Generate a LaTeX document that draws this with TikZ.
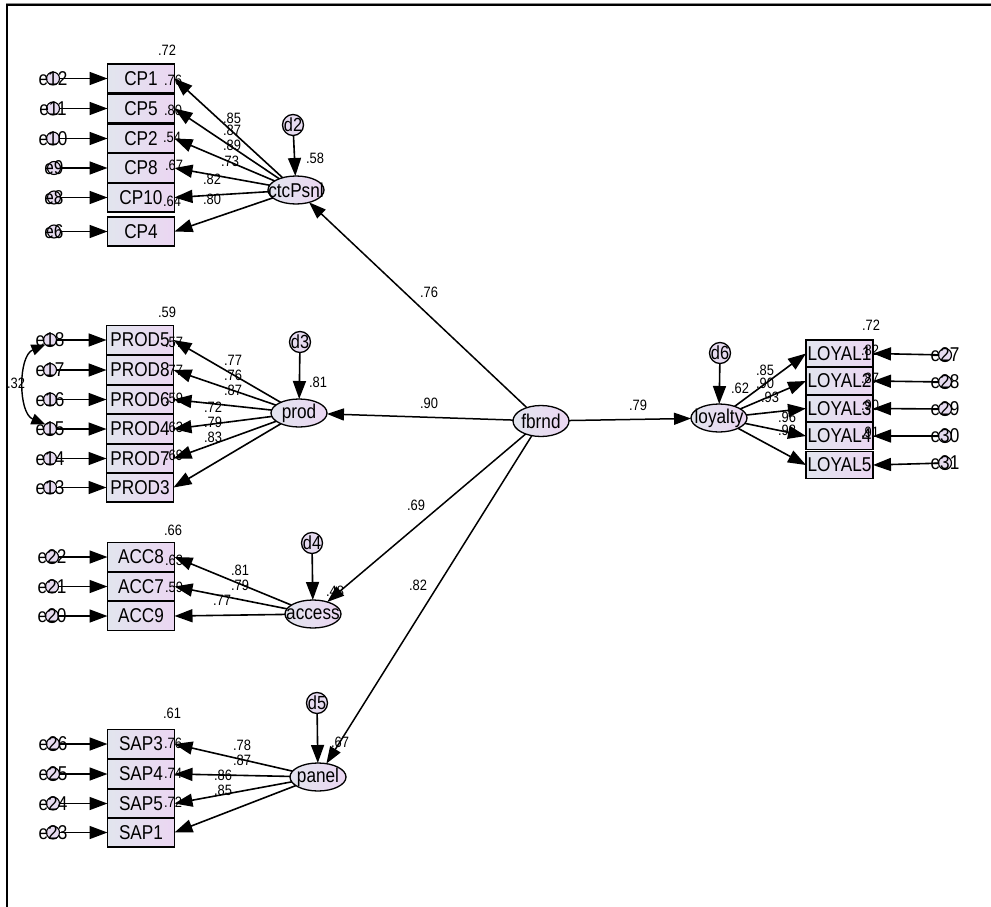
\documentclass[tikz,border=0pt]{standalone}
\usepackage{fontspec}
\setmainfont{Liberation Sans}[FakeStretch=0.86]
\usetikzlibrary{arrows.meta,shapes.geometric}
\definecolor{bxL}{HTML}{E2E5EE}
\definecolor{bxR}{HTML}{EBD6F2}
\definecolor{elF}{HTML}{E6DBF0}
\begin{document}
\begin{tikzpicture}[x=1pt,y=-1pt,
  every node/.style={inner sep=0pt,outer sep=0pt},
  obs/.style={draw,line width=1.6pt,rectangle,minimum width=67pt,minimum height=29pt,left color=bxL,right color=bxR,font=\fontsize{20}{22}\selectfont},
  obsl/.style={obs,minimum height=27pt},
  lat/.style={draw,line width=1.3pt,ellipse,minimum width=56pt,minimum height=28pt,left color=bxL,right color=bxR,label={[font=\fontsize{20}{22}\selectfont]center:#1}},
  dist/.style={draw,line width=1.3pt,circle,minimum size=21pt,fill=elF,label={[font=\fontsize{19}{20}\selectfont]center:#1}},
  errc/.style={draw,line width=1.1pt,circle,minimum size=13pt,fill=elF,label={[font=\fontsize{20}{22}\selectfont]center:#1}},
  num/.style={font=\fontsize{15}{16}\selectfont},
  arr/.style={line width=1.6pt,-{Triangle[length=18pt,width=13pt]}},
  sarr/.style={line width=1.5pt,-{Triangle[length=17pt,width=12pt]}}
]
\useasboundingbox (0,0) rectangle (991,907);
\fill[white] (0,0) rectangle (991,907);
% frame
\draw[line width=0.8pt,black!45] (6,3.6) -- (991,3.6);
\draw[line width=2pt] (6,5.3) -- (991,5.3);
\draw[line width=2.2pt] (6.7,4.5) -- (6.7,907);

% ---------- CP block ----------
\node[obs] (cp1) at (141,78.5) {CP1};
\node[obs] (cp5) at (141,108.5) {CP5};
\node[obs] (cp2) at (141,138.5) {CP2};
\node[obs] (cp8) at (141,168) {CP8};
\node[obs] (cp10) at (141,197.5) {CP10};
\node[obs] (cp4) at (141,231.5) {CP4};
\node[errc=e12] (e12) at (53,78.5) {};
\node[errc=e11] (e11) at (53,108.5) {};
\node[errc=e10] (e10) at (53,138.5) {};
\node[errc=e9] (e9) at (54,168) {};
\node[errc=e8] (e8) at (54,197.5) {};
\node[errc=e6] (e6) at (54,231.5) {};
\foreach \e/\b in {e12/cp1,e11/cp5,e10/cp2,e9/cp8,e8/cp10,e6/cp4} \draw[arr] (\e) -- (\b);
\node[lat=ctcPsnl] (ctc) at (296,190) {};
\node[dist=d2] (d2) at (293,125) {};
\draw[arr] (d2) -- (ctc);
\foreach \b in {cp1,cp5,cp2,cp8,cp10,cp4} \draw[arr] (ctc) -- (\b.east);
\node[num] at (167,50) {.72};
\node[num] at (173,80) {.76};
\node[num] at (173,110) {.80};
\node[num] at (172,137) {.54};
\node[num] at (174,165) {.67};
\node[num] at (172,201) {.64};
\node[num] at (232,118) {.85};
\node[num] at (232,130) {.87};
\node[num] at (232,145) {.89};
\node[num] at (230,161) {.73};
\node[num] at (212,179) {.82};
\node[num] at (212,199) {.80};
\node[num] at (315,158) {.58};

% ---------- PROD block ----------
\node[obs] (pr5) at (140,340) {PROD5};
\node[obs] (pr8) at (140,370) {PROD8};
\node[obs] (pr6) at (140,399.5) {PROD6};
\node[obs] (pr4) at (140,429) {PROD4};
\node[obs] (pr7) at (140,458.5) {PROD7};
\node[obs] (pr3) at (140,487.5) {PROD3};
\node[errc=e18] (e18) at (50,340) {};
\node[errc=e17] (e17) at (50,370) {};
\node[errc=e16] (e16) at (50,399.5) {};
\node[errc=e15] (e15) at (50,429) {};
\node[errc=e14] (e14) at (50,458.5) {};
\node[errc=e13] (e13) at (50,487.5) {};
\foreach \e/\b in {e18/pr5,e17/pr8,e16/pr6,e15/pr4,e14/pr7,e13/pr3} \draw[arr] (\e) -- (\b);
\draw[line width=1.4pt,{Triangle[length=14pt,width=11pt]}-{Triangle[length=14pt,width=11pt]}]
  (e18.south west) .. controls (18,356) and (18,413) .. (e15.north west);
\node[num] at (16,383) {.32};
\node[lat=prod] (prod) at (299,413) {};
\node[dist=d3] (d3) at (300,342) {};
\draw[arr] (d3) -- (prod);
\foreach \b in {pr5,pr8,pr6,pr4,pr7,pr3} \draw[arr] (prod) -- (\b.east);
\node[num] at (167,312) {.59};
\node[num] at (174,342) {.57};
\node[num] at (174,370) {.77};
\node[num] at (174,398) {.59};
\node[num] at (174,427) {.63};
\node[num] at (174,455) {.69};
\node[num] at (233,360) {.77};
\node[num] at (233,375) {.76};
\node[num] at (233,390) {.87};
\node[num] at (213,407) {.72};
\node[num] at (213,422) {.79};
\node[num] at (213,437) {.83};
\node[num] at (318,382) {.81};

% ---------- ACC block ----------
\node[obs] (ac8) at (141,557) {ACC8};
\node[obs] (ac7) at (141,586.5) {ACC7};
\node[obs] (ac9) at (141,616) {ACC9};
\node[errc=e22] (e22) at (52,557) {};
\node[errc=e21] (e21) at (52,586.5) {};
\node[errc=e20] (e20) at (52,616) {};
\foreach \e/\b in {e22/ac8,e21/ac7,e20/ac9} \draw[arr] (\e) -- (\b);
\node[lat=access] (acc) at (313,614) {};
\node[dist=d4] (d4) at (312,543) {};
\draw[arr] (d4) -- (acc);
\foreach \b in {ac8,ac7,ac9} \draw[arr] (acc) -- (\b.east);
\node[num] at (173,530) {.66};
\node[num] at (174,560) {.63};
\node[num] at (174,587) {.59};
\node[num] at (240,570) {.81};
\node[num] at (240,585) {.79};
\node[num] at (222,600) {.77};
\node[num] at (335,591) {.48};

% ---------- SAP block ----------
\node[obs] (s3) at (141,744) {SAP3};
\node[obs] (s4) at (141,774) {SAP4};
\node[obs] (s5) at (141,803.5) {SAP5};
\node[obs] (s1) at (141,832.5) {SAP1};
\node[errc=e26] (e26) at (53,744) {};
\node[errc=e25] (e25) at (53,774) {};
\node[errc=e24] (e24) at (53,803.5) {};
\node[errc=e23] (e23) at (53,832.5) {};
\foreach \e/\b in {e26/s3,e25/s4,e24/s5,e23/s1} \draw[arr] (\e) -- (\b);
\node[lat=panel] (pan) at (318,777) {};
\node[dist=d5] (d5) at (317,703) {};
\draw[arr] (d5) -- (pan);
\foreach \b in {s3,s4,s5,s1} \draw[arr] (pan) -- (\b.east);
\node[num] at (172,713) {.61};
\node[num] at (173,743) {.76};
\node[num] at (173,773) {.74};
\node[num] at (173,802) {.72};
\node[num] at (242,745) {.78};
\node[num] at (242,760) {.87};
\node[num] at (223,775) {.86};
\node[num] at (223,790) {.85};
\node[num] at (340,742) {.67};

% ---------- LOYAL block ----------
\node[obsl] (ly1) at (839.5,353.5) {LOYAL1};
\node[obsl] (ly2) at (839.5,381) {LOYAL2};
\node[obsl] (ly3) at (839.5,408.5) {LOYAL3};
\node[obsl] (ly4) at (839.5,436) {LOYAL4};
\node[obsl] (ly5) at (839.5,465) {LOYAL5};
\node[errc=e27] (e27) at (945,355) {};
\node[errc=e28] (e28) at (945,382) {};
\node[errc=e29] (e29) at (945,409) {};
\node[errc=e30] (e30) at (945,436) {};
\node[errc=e31] (e31) at (945,463) {};
\foreach \e/\b in {e27/ly1,e28/ly2,e29/ly3,e30/ly4,e31/ly5} \draw[arr] (\e) -- (\b.east);
\node[lat=loyalty] (loy) at (719,418) {};
\node[dist=d6] (d6) at (720,353) {};
\draw[arr] (d6) -- (loy);
\foreach \b in {ly1,ly2,ly3,ly4,ly5} \draw[arr] (loy) -- (\b.west);
\node[num] at (871,325) {.72};
\node[num] at (870,350) {.82};
\node[num] at (870,378) {.87};
\node[num] at (870,405) {.90};
\node[num] at (870,432) {.91};
\node[num] at (765,370) {.85};
\node[num] at (765,383) {.90};
\node[num] at (770,397) {.93};
\node[num] at (787,417) {.96};
\node[num] at (787,430) {.98};
\node[num] at (740,388) {.62};

% ---------- structural ----------
\node[lat=fbrnd,minimum height=31pt] (fb) at (541,421) {};
\draw[sarr] (fb) -- (ctc);
\draw[sarr] (fb) -- (prod);
\draw[sarr] (fb) -- (acc);
\draw[sarr] (fb) -- (pan);
\draw[sarr] (fb) -- (loy);
\node[num] at (429,292) {.76};
\node[num] at (429,403) {.90};
\node[num] at (638,405) {.79};
\node[num] at (416,505) {.69};
\node[num] at (418,585) {.82};
\end{tikzpicture}
\end{document}
